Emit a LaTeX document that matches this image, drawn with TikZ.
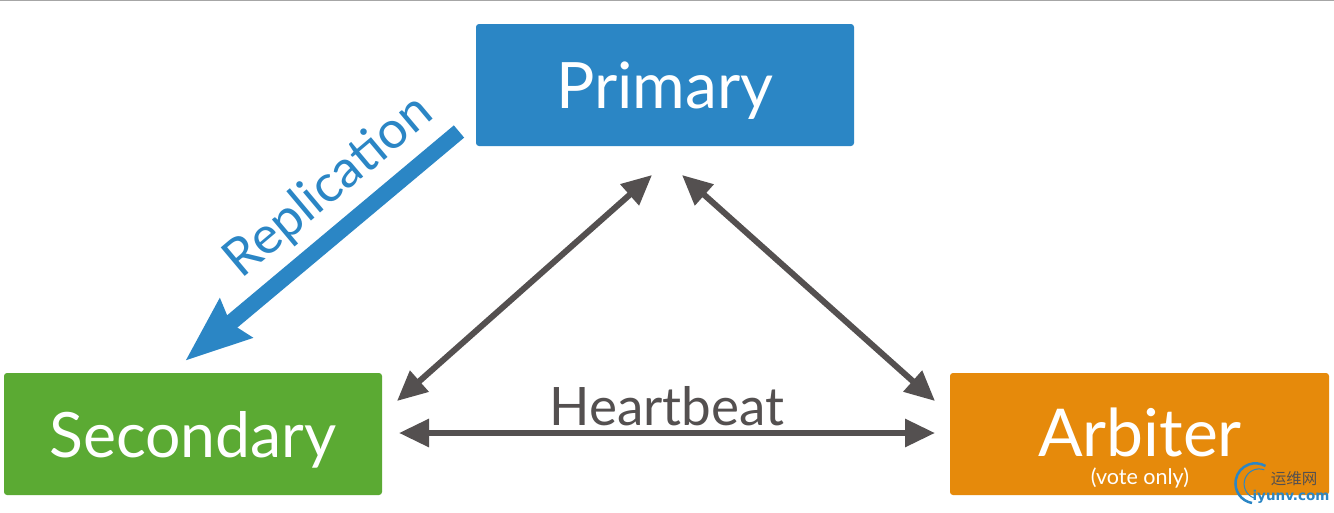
\documentclass[tikz,border=0pt]{standalone}
\usepackage{fontspec}
\setmainfont{Lato}
\newfontfamily\cjkwm{Noto Sans CJK SC}
\newfontfamily\wmlatin{DejaVu Sans}
\usetikzlibrary{arrows.meta}
\definecolor{pblue}{HTML}{2B86C5}
\definecolor{sgreen}{HTML}{5BAA33}
\definecolor{aorange}{HTML}{E68A0B}
\definecolor{hgray}{HTML}{545050}
\tikzset{
  box/.style={rounded corners=3pt,minimum width=378pt,minimum height=122pt,inner sep=0pt},
  hb/.style={draw=hgray,line width=6pt,{Triangle[length=30pt,width=27pt]}-{Triangle[length=30pt,width=27pt]}},
  rep/.style={draw=pblue,line width=16pt,-{Stealth[length=65pt,width=48pt,inset=6pt]}},
}
\begin{document}
\begin{tikzpicture}[x=1pt,y=-1pt]
\useasboundingbox (0,0) rectangle (1334,512);
\fill[white] (0,0) rectangle (1334,512);
\draw[gray!70,line width=1pt] (0,0.5) -- (1334,0.5);
\node[box,fill=pblue] (primary) at (665,85) {};
\node[box,fill=sgreen] (secondary) at (193,434) {};
\node[box,fill=aorange,minimum width=379pt] (arbiter) at (1139.5,434) {};
\node[text=white,font=\fontsize{64}{64}\selectfont,anchor=base] (ptext) at (665,108) {Primary};
\node[text=white,font=\fontsize{62.5}{64}\selectfont,anchor=base] (stext) at (193,457) {Secondary};
\node[text=white,font=\fontsize{66}{66}\selectfont,anchor=base] (atext) at (1140,456) {Arbiter};
\node[text=white,font=\fontsize{21.5}{22}\selectfont,anchor=base] (vote) at (1140,484) {(vote only)};
\coordinate (p1) at (652,175);
\coordinate (p2) at (682,175);
\coordinate (s1) at (397,401);
\coordinate (s2) at (399,433);
\coordinate (a1) at (935,401);
\coordinate (a2) at (935,433);
\coordinate (rt) at (459,131.5);
\coordinate (rh) at (185,361);
\draw[hb] (p1) -- (s1);
\draw[hb] (p2) -- (a1);
\draw[hb] (s2) -- (a2);
\draw[rep] (rt) -- (rh);
\node[text=pblue,rotate=40,font=\fontsize{52}{52}\selectfont,inner sep=0pt] (reptext) at (329,187) {Replication};
\node[text=hgray,font=\fontsize{53}{53}\selectfont,anchor=base] (hbtext) at (667,425) {Heartbeat};
% watermark
\draw[pblue,line width=2.5pt] (1252,503) arc[start angle=260,end angle=60,radius=20pt];
\draw[pblue,line width=1pt] (1254,498) arc[start angle=250,end angle=70,radius=15pt];
\node[text=hgray,font=\cjkwm\fontsize{15.5}{16}\selectfont,anchor=center,inner sep=0pt] (wm1) at (1294,479) {运维网};
\node[text=pblue,font=\wmlatin\bfseries\fontsize{13.5}{14}\selectfont,anchor=center,inner sep=0pt] (wm2) at (1291,497) {iyunv.com};
\end{tikzpicture}
\end{document}
